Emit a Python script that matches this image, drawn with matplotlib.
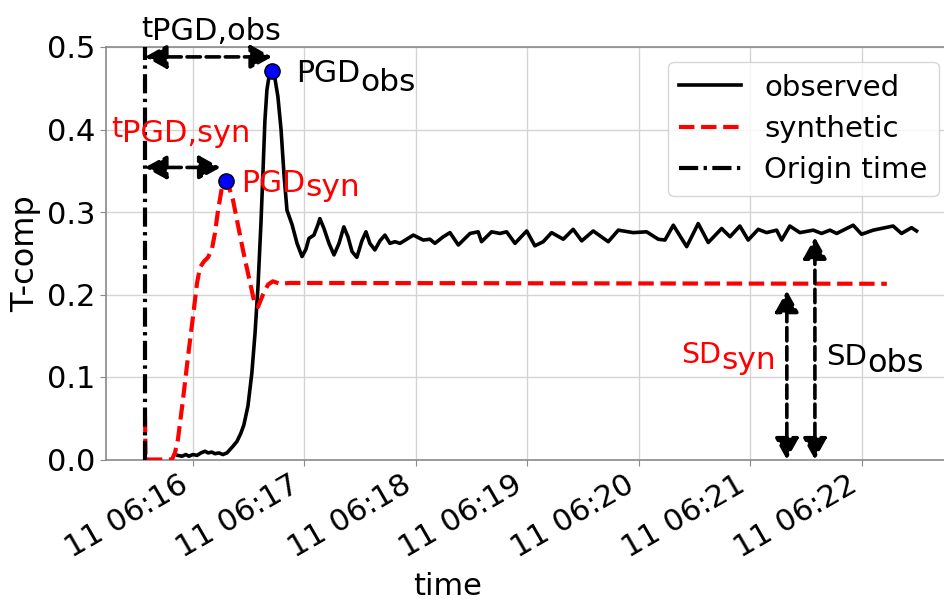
import numpy as np
import matplotlib
matplotlib.use("Agg")
import matplotlib.pyplot as plt
import matplotlib.dates as mdates

# reference clock for the record (all times below are seconds from 06:16:00)
t_ref = np.datetime64("2021-01-11T06:16:00")
origin_sec = -25.8

obs_sec = [-8.1, -5.9, -3.8, -2.2, 0.0, 2.2, 4.3, 6.5, 8.1, 10.2, 11.8, 14.0, 16.1, 18.3,
           19.9, 21.5, 23.7, 25.8, 27.4, 29.6, 31.7, 33.4, 35.0, 36.6, 37.7, 38.7, 39.8,
           40.9, 42.5, 44.1, 45.7, 47.4, 49.0, 50.6, 53.3, 56.0, 58.7, 60.8, 62.4, 65.1,
           67.3, 68.3, 70.5, 73.2, 75.9, 78.6, 81.2, 83.4, 85.6, 88.2, 90.9, 93.1, 95.2,
           97.9, 100.6, 103.3, 106.0, 108.7, 111.4, 118.6, 123.9, 127.5, 130.2, 134.7,
           138.3, 142.8, 149.1, 153.5, 155.3, 160.7, 165.2, 168.8, 173.3, 179.6, 184.0,
           188.5, 193.0, 199.3, 204.6, 209.2, 215.4, 223.5, 228.9, 236.9, 244.1, 250.4,
           254.0, 258.5, 265.7, 271.9, 277.3, 284.5, 289.0, 294.3, 298.8, 304.2, 308.7,
           314.1, 316.8, 321.2, 326.6, 333.8, 338.3, 342.8, 346.4, 355.3, 359.8, 366.1,
           376.8, 381.3, 386.7, 389.4]
obs_val = [0.005, 0.004, 0.006, 0.004, 0.006, 0.005, 0.008, 0.010, 0.008, 0.009, 0.007,
           0.008, 0.006, 0.008, 0.012, 0.016, 0.022, 0.032, 0.042, 0.065, 0.105, 0.153,
           0.210, 0.287, 0.350, 0.410, 0.448, 0.464, 0.471, 0.462, 0.440, 0.400, 0.345,
           0.302, 0.285, 0.262, 0.246, 0.255, 0.268, 0.272, 0.285, 0.292, 0.280, 0.262,
           0.248, 0.262, 0.282, 0.270, 0.252, 0.245, 0.265, 0.276, 0.262, 0.254, 0.265,
           0.272, 0.262, 0.264, 0.262, 0.272, 0.266, 0.267, 0.262, 0.270, 0.275, 0.260,
           0.274, 0.276, 0.264, 0.276, 0.274, 0.276, 0.262, 0.277, 0.259, 0.264, 0.275,
           0.267, 0.279, 0.265, 0.277, 0.264, 0.278, 0.275, 0.276, 0.267, 0.266, 0.284,
           0.258, 0.286, 0.263, 0.280, 0.270, 0.283, 0.266, 0.279, 0.275, 0.278, 0.266,
           0.283, 0.275, 0.278, 0.274, 0.278, 0.274, 0.284, 0.273, 0.278, 0.283, 0.274,
           0.281, 0.277]

syn_sec = [-25.8, -25.5, -11.3, -9.7, -8.1, -5.4, -2.7, 0.0, 2.2, 3.8, 5.9, 8.1, 10.2,
           11.8, 13.5, 15.6, 17.8, 19.4, 21.5, 23.7, 26.9, 29.6, 32.8, 35.0, 37.7, 40.4,
           43.0, 46.8, 52.2, 373.4]
syn_val = [0.052, 0.0, 0.0, 0.008, 0.024, 0.072, 0.124, 0.173, 0.214, 0.233, 0.240,
           0.245, 0.255, 0.274, 0.302, 0.330, 0.338, 0.330, 0.315, 0.290, 0.254, 0.226,
           0.193, 0.185, 0.200, 0.212, 0.216, 0.213, 0.214, 0.213]

sd_syn, sd_obs = 0.213, 0.276
sd_syn_sec, sd_obs_sec = 319.6, 334.7


def to_num(sec):
    sec = np.atleast_1d(np.asarray(sec, dtype=float))
    t = t_ref + (sec * 1000).astype("timedelta64[ms]")
    return mdates.date2num(t)


def sub_label(ax, sec, y, base, sub, color, size, sub_size, dy):
    t = ax.text(to_num(sec)[0], y, base, color=color, fontsize=size,
                ha="left", va="baseline")
    ax.annotate(sub, xy=(1, 0), xycoords=t, xytext=(0, dy),
                textcoords="offset points", color=color, fontsize=sub_size,
                ha="left", va="baseline")


fig = plt.figure(figsize=(9.44, 6.03), dpi=100)
ax = fig.add_axes([106 / 944, 143.5 / 603, 844 / 944, 412.5 / 603])

x_obs, x_syn = to_num(obs_sec), to_num(syn_sec)
x_org = to_num(origin_sec)[0]

ax.plot(x_obs, obs_val, color="k", lw=2.6, label="observed", zorder=3)
ax.plot(x_syn, syn_val, color="red", lw=3, ls="--", label="synthetic", zorder=3)
ax.axvline(x_org, color="k", lw=3, ls=(0, (4.6, 1.3, 0.8, 1.3)), label="Origin time", zorder=3)

# peak ground displacement markers
i_obs, i_syn = int(np.argmax(obs_val)), int(np.argmax(syn_val))
ax.plot(x_obs[i_obs], obs_val[i_obs], "o", ms=11, mfc="blue", mec="k", mew=1, zorder=5)
ax.plot(x_syn[i_syn], syn_val[i_syn], "o", ms=11, mfc="blue", mec="k", mew=1, zorder=5)

arrow = dict(arrowstyle="<|-|>,head_length=0.65,head_width=0.36", mutation_scale=20,
             color="k", lw=2.6, ls="--", shrinkA=0, shrinkB=0)
ax.annotate("", xy=(x_obs[i_obs], 0.488), xytext=(x_org, 0.488), arrowprops=arrow)
ax.annotate("", xy=(x_syn[i_syn], 0.354), xytext=(x_org, 0.354),
            arrowprops=dict(arrow, shrinkB=4))
ax.annotate("", xy=(to_num(sd_syn_sec)[0], sd_syn), xytext=(to_num(sd_syn_sec)[0], 0),
            arrowprops=dict(arrow, shrinkB=5))
ax.annotate("", xy=(to_num(sd_obs_sec)[0], sd_obs), xytext=(to_num(sd_obs_sec)[0], 0),
            arrowprops=dict(arrow, shrinkB=4))

sub_label(ax, -28.0, 0.5125, "t", "PGD,obs", "k", 20.5, 22, 2.0)
sub_label(ax, 55.4, 0.458, "PGD", "obs", "k", 21.5, 22.5, -2.6)
sub_label(ax, -44.1, 0.391, "t", "PGD,syn", "red", 20.5, 22, 1.0)
sub_label(ax, 25.8, 0.3246, "PGD", "syn", "red", 21.5, 22.5, 1.3)
sub_label(ax, 262.6, 0.1166, "SD", "syn", "red", 20.5, 22.5, 0.4)
sub_label(ax, 340.6, 0.1145, "SD", "obs", "k", 21, 23, -0.6)

ax.set_xlim(to_num(-46.8)[0], to_num(407.4)[0])
ax.set_ylim(0, 0.5)
ax.set_yticks(np.arange(0, 0.51, 0.1))
ax.yaxis.set_major_formatter(plt.FormatStrFormatter("%.1f"))
ax.xaxis.set_major_locator(mdates.MinuteLocator())
ax.xaxis.set_major_formatter(mdates.DateFormatter("%d %H:%M"))
for lab in ax.get_xticklabels():
    lab.set_rotation(30)
    lab.set_ha("right")

ax.grid(True, color="#d4d4d4", lw=1)
ax.set_axisbelow(True)
for s in ax.spines.values():
    s.set_color("#8a8a8a")
    s.set_linewidth(1.2)
ax.tick_params(labelsize=22, color="#8a8a8a", length=4)

ax.set_ylabel("T-comp", fontsize=23)
ax.set_xlabel("time", fontsize=22)
ax.xaxis.set_label_coords(0.405, -0.272)

ax.legend(loc="upper right", bbox_to_anchor=(939 / 944, 1 - 62 / 603),
          bbox_transform=fig.transFigure, borderaxespad=0, fontsize=21,
          handlelength=2.1, labelspacing=0.45)

fig.savefig("out.png", dpi=100)
